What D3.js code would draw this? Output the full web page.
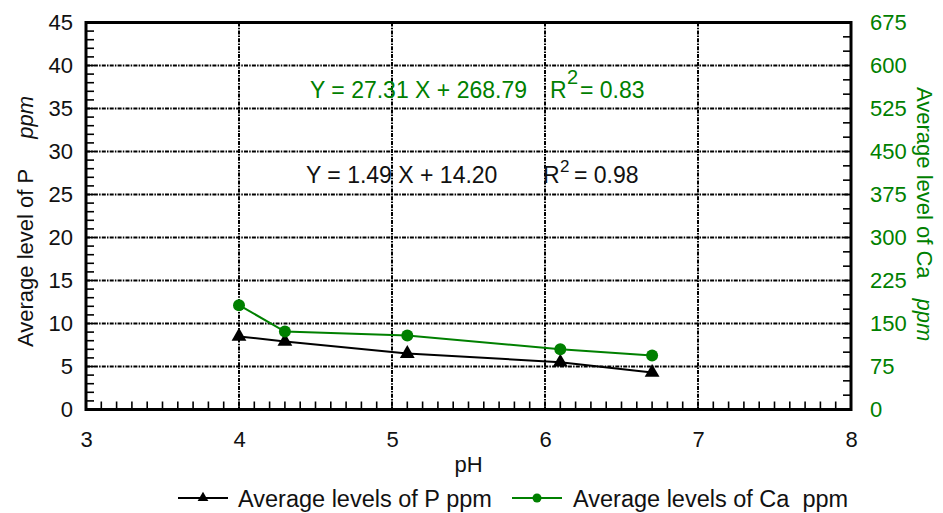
<!DOCTYPE html>
<html>
<head>
<meta charset="utf-8">
<script src="https://cdn.jsdelivr.net/npm/d3@7"></script>
<style>
    body { margin: 0; background: #fff; }
    text { font-family: "Liberation Sans", Arial, sans-serif; }
</style>
</head>
<body>
<div id="chart"></div>
<script>
// pH vs average P and Ca levels

const phValues = [4.0, 4.3, 5.1, 6.1, 6.7];
const pLevels = [8.5, 7.9, 6.5, 5.5, 4.3];
const caLevels = [182, 136, 129, 105, 94];

const xTicks = [3, 4, 5, 6, 7, 8];
const yLeftTicks = [0, 5, 10, 15, 20, 25, 30, 35, 40, 45];
const yRightTicks = [0, 75, 150, 225, 300, 375, 450, 525, 600, 675];

const seriesNames = ["Average levels of P ppm", "Average levels of Ca  ppm"];
const caEquation = ["Y = 27.31 X + 268.79", "R", "2", "= 0.83"];
const pEquation = ["Y = 1.49 X + 14.20", "R", "2", "= 0.98"];

const green = "#008000";

// Set up dimensions and margins
const width = 943, height = 513;
const margin = { top: 22.5, right: 92, bottom: 103.5, left: 86 };
const innerW = width - margin.left - margin.right;
const innerH = height - margin.top - margin.bottom;

const svg = d3.select("#chart")
    .append("svg")
    .attr("width", width)
    .attr("height", height);

const g = svg.append("g")
    .attr("transform", `translate(${margin.left},${margin.top})`);

// Scales
const x = d3.scaleLinear().domain([3, 8]).range([0, innerW]);
const yL = d3.scaleLinear().domain([0, 45]).range([innerH, 0]);
const yR = d3.scaleLinear().domain([0, 675]).range([innerH, 0]);

// Gridlines
const gridDash = "4,1.2,1.5,1.2";
g.append("g")
    .selectAll("line")
    .data(yLeftTicks.filter(d => d > 0 && d < 45))
    .join("line")
    .attr("x1", 0).attr("x2", innerW)
    .attr("y1", d => yL(d)).attr("y2", d => yL(d))
    .attr("stroke", "#000")
    .attr("stroke-width", 2)
    .attr("stroke-dasharray", gridDash);

g.append("g")
    .selectAll("line")
    .data(xTicks.filter(d => d > 3 && d < 8))
    .join("line")
    .attr("x1", d => x(d)).attr("x2", d => x(d))
    .attr("y1", 0).attr("y2", innerH)
    .attr("stroke", "#000")
    .attr("stroke-width", 2)
    .attr("stroke-dasharray", gridDash);

// Minor ticks (pointing inward)
const tickLen = 8;
g.append("g")
    .selectAll("line")
    .data(d3.range(1, 45))
    .join("line")
    .attr("x1", 0).attr("x2", tickLen)
    .attr("y1", d => yL(d)).attr("y2", d => yL(d))
    .attr("stroke", "#000").attr("stroke-width", 1.6);

g.append("g")
    .selectAll("line")
    .data(d3.range(1, 50).map(i => 3 + i / 10))
    .join("line")
    .attr("x1", d => x(d)).attr("x2", d => x(d))
    .attr("y1", innerH).attr("y2", innerH - tickLen)
    .attr("stroke", "#000").attr("stroke-width", 1.6);

g.append("g")
    .selectAll("line")
    .data(d3.range(1, 27).map(i => i * 25))
    .join("line")
    .attr("x1", innerW).attr("x2", innerW - tickLen)
    .attr("y1", d => yR(d)).attr("y2", d => yR(d))
    .attr("stroke", "#000").attr("stroke-width", 1.6);

// Frame
g.append("rect")
    .attr("width", innerW)
    .attr("height", innerH)
    .attr("fill", "none")
    .attr("stroke", "#000")
    .attr("stroke-width", 3);

// Axes (labels only)
const xAxis = g.append("g")
    .attr("transform", `translate(0,${innerH})`)
    .call(d3.axisBottom(x).tickValues(xTicks).tickFormat(d3.format("d")).tickSize(0).tickPadding(22));
const yAxisL = g.append("g")
    .call(d3.axisLeft(yL).tickValues(yLeftTicks).tickSize(0).tickPadding(13));
const yAxisR = g.append("g")
    .attr("transform", `translate(${innerW},0)`)
    .call(d3.axisRight(yR).tickValues(yRightTicks).tickSize(0).tickPadding(19));

[xAxis, yAxisL, yAxisR].forEach(a => {
    a.select(".domain").remove();
    a.selectAll("text")
        .attr("font-size", "22px")
        .attr("font-family", "Liberation Sans, Arial, sans-serif");
});
xAxis.selectAll("text").attr("fill", "#111");
yAxisL.selectAll("text").attr("fill", "#111");
yAxisR.selectAll("text").attr("fill", green);

// Series lines
const line = d3.line();
g.append("path")
    .attr("d", line(phValues.map((d, i) => [x(d), yR(caLevels[i])])))
    .attr("fill", "none")
    .attr("stroke", green)
    .attr("stroke-width", 2);

g.append("path")
    .attr("d", line(phValues.map((d, i) => [x(d), yL(pLevels[i])])))
    .attr("fill", "none")
    .attr("stroke", "#000")
    .attr("stroke-width", 2);

// Markers
const tri = d3.symbol().type(d3.symbolTriangle).size(95);
g.append("g")
    .selectAll("path")
    .data(phValues)
    .join("path")
    .attr("d", tri)
    .attr("transform", (d, i) => `translate(${x(d)},${yL(pLevels[i])})`)
    .attr("fill", "#000");

g.append("g")
    .selectAll("circle")
    .data(phValues)
    .join("circle")
    .attr("cx", d => x(d))
    .attr("cy", (d, i) => yR(caLevels[i]))
    .attr("r", 6)
    .attr("fill", green);

// Axis titles
svg.append("text")
    .attr("x", margin.left + innerW / 2)
    .attr("y", 472)
    .attr("text-anchor", "middle")
    .attr("font-size", "22px")
    .attr("fill", "#111")
    .text("pH");

const leftTitle = svg.append("text")
    .attr("transform", `translate(33,347) rotate(-90)`)
    .attr("font-size", "22px")
    .attr("fill", "#111");
leftTitle.append("tspan").text("Average level of P");
leftTitle.append("tspan").attr("dx", 30).attr("font-style", "italic").text("ppm");

const rightTitle = svg.append("text")
    .attr("transform", `translate(917,87) rotate(90)`)
    .attr("font-size", "22px")
    .attr("fill", green);
rightTitle.append("tspan").text("Average level of Ca");
rightTitle.append("tspan").attr("dx", 20).attr("font-style", "italic").text("ppm");

// Regression annotations
function equation(parts, x0, base, rx, supX, supBase, supSize, eqX, color) {
    const t = svg.append("g").attr("fill", color).attr("font-size", "23px");
    t.append("text").attr("x", x0).attr("y", base).text(parts[0]);
    t.append("text").attr("x", rx).attr("y", base).text(parts[1]);
    t.append("text").attr("x", supX).attr("y", supBase).attr("font-size", supSize).text(parts[2]);
    t.append("text").attr("x", eqX).attr("y", base).text(parts[3]);
}
equation(caEquation, 310, 98, 550, 567, 84, "20px", 580, green);
equation(pEquation, 306, 183, 543, 560, 172, "17px", 574, "#111");

// Legend
const legend = svg.append("g");
const legendY = 498;
legend.append("line")
    .attr("x1", 178).attr("x2", 228)
    .attr("y1", legendY).attr("y2", legendY)
    .attr("stroke", "#000").attr("stroke-width", 2);
legend.append("path")
    .attr("d", d3.symbol().type(d3.symbolTriangle).size(50))
    .attr("transform", `translate(203,${legendY})`)
    .attr("fill", "#000");
legend.append("text")
    .attr("x", 238).attr("y", 507)
    .attr("font-size", "23.5px")
    .attr("fill", "#111")
    .text(seriesNames[0]);

legend.append("line")
    .attr("x1", 512).attr("x2", 562)
    .attr("y1", legendY).attr("y2", legendY)
    .attr("stroke", green).attr("stroke-width", 2);
legend.append("circle")
    .attr("cx", 537).attr("cy", legendY)
    .attr("r", 4.5)
    .attr("fill", green);
legend.append("text")
    .attr("x", 573).attr("y", 507)
    .attr("font-size", "23.5px")
    .attr("fill", "#111")
    .attr("xml:space", "preserve")
    .style("white-space", "pre")
    .text(seriesNames[1]);
</script>
</body>
</html>
